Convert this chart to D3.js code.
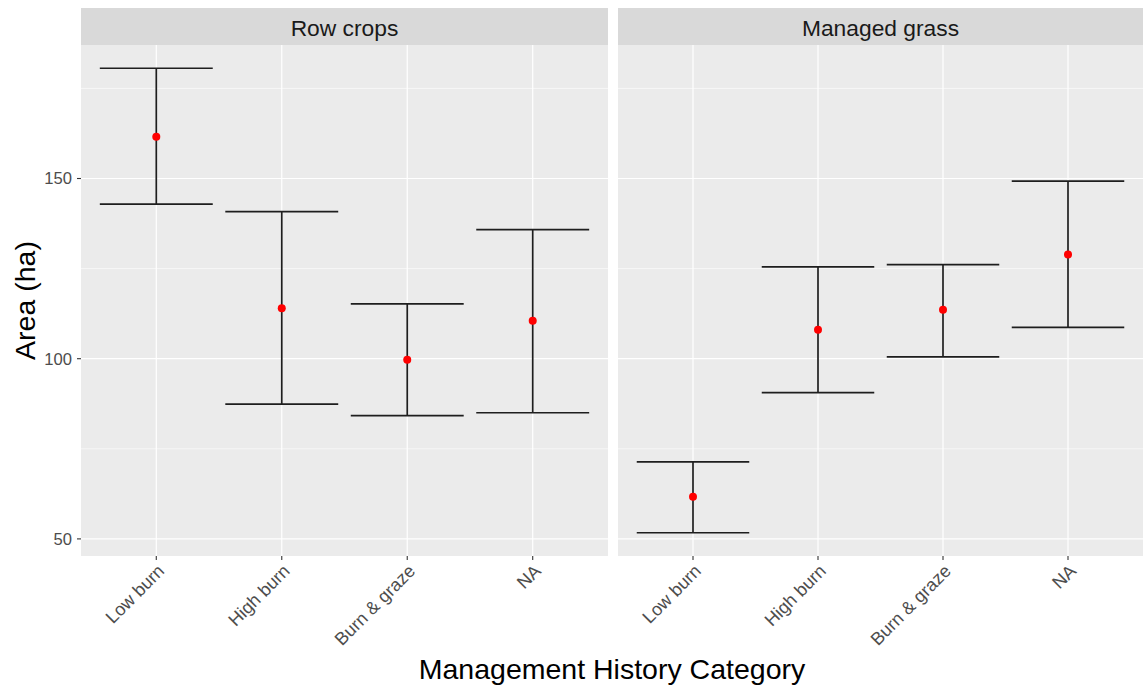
<!DOCTYPE html>
<html><head><meta charset="utf-8">
<script src="https://cdn.jsdelivr.net/npm/d3@7"></script>
<style>body{margin:0;background:#fff;} text{font-family:Arial,"Liberation Sans",sans-serif;}</style>
</head><body>
<svg id="c" width="1143" height="689"></svg>
<script>
const panels = ["Row crops", "Managed grass"];
const categories = ["Low burn", "High burn", "Burn & graze", "NA"];
const meanRow = [161.6, 114.0, 99.7, 110.5];
const lowerRow = [142.9, 87.4, 84.2, 85.0];
const upperRow = [180.6, 140.8, 115.2, 135.8];
const meanGrass = [61.7, 108.0, 113.6, 128.9];
const lowerGrass = [51.7, 90.6, 100.5, 108.7];
const upperGrass = [71.4, 125.5, 126.1, 149.3];
const yTicks = [50, 100, 150];
const yMinor = [75, 125, 175];

(function () {
const data = [
  {panel: panels[0], mean: meanRow, lo: lowerRow, hi: upperRow},
  {panel: panels[1], mean: meanGrass, lo: lowerGrass, hi: upperGrass}
];

const svg = d3.select("#c");
const pTop = 45, pBottom = 556, stripTop = 8;
const panelX = [[81, 608], [618, 1143]];

const allVals = [...lowerRow, ...upperRow, ...lowerGrass, ...upperGrass];
const ext = d3.extent(allVals);
const pad = (ext[1] - ext[0]) * 0.05;
const y = d3.scaleLinear().domain([ext[0] - pad, ext[1] + pad]).range([pBottom, pTop]);

data.forEach((d, i) => {
  const [x0, x1] = panelX[i];
  const w = x1 - x0;
  const xs = d3.scalePoint().domain(categories).range([x0 + w * 0.6 / 4.2, x1 - w * 0.6 / 4.2]);
  const step = w / 4.2;
  const g = svg.append("g");
  g.append("rect").attr("x", x0).attr("y", pTop).attr("width", w).attr("height", pBottom - pTop).attr("fill", "#EBEBEB");
  g.append("rect").attr("x", x0).attr("y", stripTop).attr("width", w).attr("height", pTop - stripTop).attr("fill", "#D9D9D9");
  g.append("text").attr("x", (x0 + x1) / 2).attr("y", 36)
    .attr("text-anchor", "middle").attr("font-size", 22.8).attr("fill", "#1A1A1A").text(d.panel);
  g.selectAll(".mn").data(yMinor).join("line").attr("x1", x0).attr("x2", x1)
    .attr("y1", v => y(v)).attr("y2", v => y(v)).attr("stroke", "#fff").attr("stroke-width", 0.6);
  g.selectAll(".mj").data(yTicks).join("line").attr("x1", x0).attr("x2", x1)
    .attr("y1", v => y(v)).attr("y2", v => y(v)).attr("stroke", "#fff").attr("stroke-width", 1.2);
  g.selectAll(".vx").data(categories).join("line").attr("x1", c => xs(c)).attr("x2", c => xs(c))
    .attr("y1", pTop).attr("y2", pBottom).attr("stroke", "#fff").attr("stroke-width", 1.2);
  const xa = g.append("g");
  xa.selectAll("line").data(categories).join("line").attr("x1", c => xs(c)).attr("x2", c => xs(c))
    .attr("y1", pBottom).attr("y2", pBottom + 4).attr("stroke", "#333").attr("stroke-width", 1.1);
  xa.selectAll("text").data(categories).join("text")
    .attr("transform", c => `translate(${xs(c)},${pBottom + 7}) rotate(-45)`)
    .attr("text-anchor", "end").attr("dy", "0.72em").attr("font-size", 18).attr("fill", "#4D4D4D").text(c => c);
  const hw = step * 0.45;
  categories.forEach((c, j) => {
    const cx = xs(c);
    const eg = g.append("g").attr("stroke", "#1E1E1E").attr("stroke-width", 1.7);
    eg.append("line").attr("x1", cx).attr("x2", cx).attr("y1", y(d.lo[j])).attr("y2", y(d.hi[j]));
    eg.append("line").attr("x1", cx - hw).attr("x2", cx + hw).attr("y1", y(d.lo[j])).attr("y2", y(d.lo[j]));
    eg.append("line").attr("x1", cx - hw).attr("x2", cx + hw).attr("y1", y(d.hi[j])).attr("y2", y(d.hi[j]));
    g.append("circle").attr("cx", cx).attr("cy", y(d.mean[j])).attr("r", 4).attr("fill", "#FF0000");
  });
});

const ya = svg.append("g");
ya.selectAll("line").data(yTicks).join("line").attr("x1", 77).attr("x2", 81)
  .attr("y1", v => y(v)).attr("y2", v => y(v)).attr("stroke", "#333").attr("stroke-width", 1.1);
ya.selectAll("text").data(yTicks).join("text").attr("x", 72).attr("y", v => y(v)).attr("dy", "0.36em")
  .attr("text-anchor", "end").attr("font-size", 16.6).attr("fill", "#4D4D4D").text(v => v);

svg.append("text").attr("transform", `translate(35,${(pTop + pBottom) / 2}) rotate(-90)`)
  .attr("text-anchor", "middle").attr("font-size", 28.5).attr("fill", "#000").text("Area (ha)");
svg.append("text").attr("x", (81 + 1143) / 2).attr("y", 679).attr("text-anchor", "middle")
  .attr("font-size", 28.5).attr("fill", "#000").text("Management History Category");
})();
</script>
</body></html>
